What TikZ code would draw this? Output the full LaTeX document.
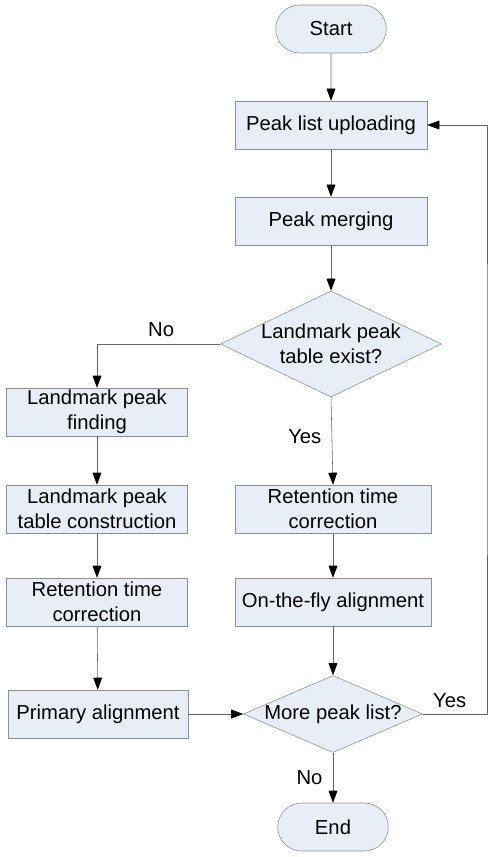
\documentclass[tikz,border=0pt]{standalone}
\usepackage{fontspec}
\setmainfont{Liberation Sans}
\usepackage{tikz}
\usetikzlibrary{shapes.geometric, shapes.misc, positioning, arrows.meta}
\definecolor{boxfill}{HTML}{E8EEF7}
\definecolor{boxline}{HTML}{8E8E8E}
\tikzset{
every node/.style={font=\fontsize{14.4}{18}\selectfont, align=center}, % text size and line spacing
process/.style={rectangle, draw=boxline, fill=boxfill, minimum height=1.2cm, inner sep=0pt}, % plain steps
terminal/.style={rounded rectangle, draw=boxline, fill=boxfill, minimum width=3cm, minimum height=1.2cm}, % start and end
decision/.style={diamond, draw=boxline, fill=boxfill, inner sep=-6pt}, % questions
flow/.style={draw=gray!80!black, -{Triangle[length=0.3cm, width=0.22cm, color=black]}}, % connectors
}

\begin{document}
\begin{tikzpicture}
\useasboundingbox (0,0) rectangle (12.325,-21.425);
% main column
\node[terminal] at (8.275,-0.725) (start) {Start};
\node[process, minimum width=4.8cm] at (8.275,-3.125) (upload) {Peak list uploading};
\node[process, minimum width=4.8cm] at (8.275,-5.525) (merge) {Peak merging};
\node[decision, aspect=2.08, minimum width=5.525cm, minimum height=2.65cm] at (8.275,-8.6) (exist) {Landmark peak\\table exist?};
% left branch
\node[process, minimum width=4.525cm] at (2.425,-10.3) (find) {Landmark peak\\finding};
\node[process, minimum width=4.525cm] at (2.425,-12.725) (build) {Landmark peak\\table construction};
\node[process, minimum width=4.525cm] at (2.425,-15.05) (rtcL) {Retention time\\correction};
\node[process, minimum width=4.5cm] at (2.45,-17.85) (primary) {Primary alignment};
% right branch
\node[process, minimum width=4.9cm] at (8.325,-12.725) (rtcR) {Retention time\\correction};
\node[process, minimum width=4.9cm] at (8.325,-15.05) (fly) {On-the-fly alignment};
\node[decision, aspect=2.32, minimum width=4.475cm, minimum height=1.925cm] at (8.325,-17.85) (more) {More peak list?};
\node[terminal] at (8.325,-20.675) (stop) {End};
\coordinate (loop) at (12.175,-10);

\draw[flow] (start) -- (upload);
\draw[flow] (upload) -- (merge);
\draw[flow] (merge) -- (exist);
\draw[flow] (exist.west) -| node[pos=0.24, above=2pt]{No} (find.north);
\draw[flow] (find) -- (build);
\draw[flow] (build) -- (rtcL);
\draw[flow] (rtcL) -- (primary);
\draw[flow] (exist.south) -- node[pos=0.45, left=4pt]{Yes} (rtcR.north);
\draw[flow] (rtcR) -- (fly);
\draw[flow] (fly) -- (more);
\draw[flow] (primary) -- (more.west);
\draw[flow] (more.east) -| node[pos=0.21, above=1pt]{Yes} (loop) |- (upload.east);
\draw[flow] (more.south) -- node[left=4pt]{No} (stop.north);
\end{tikzpicture}
\end{document}
